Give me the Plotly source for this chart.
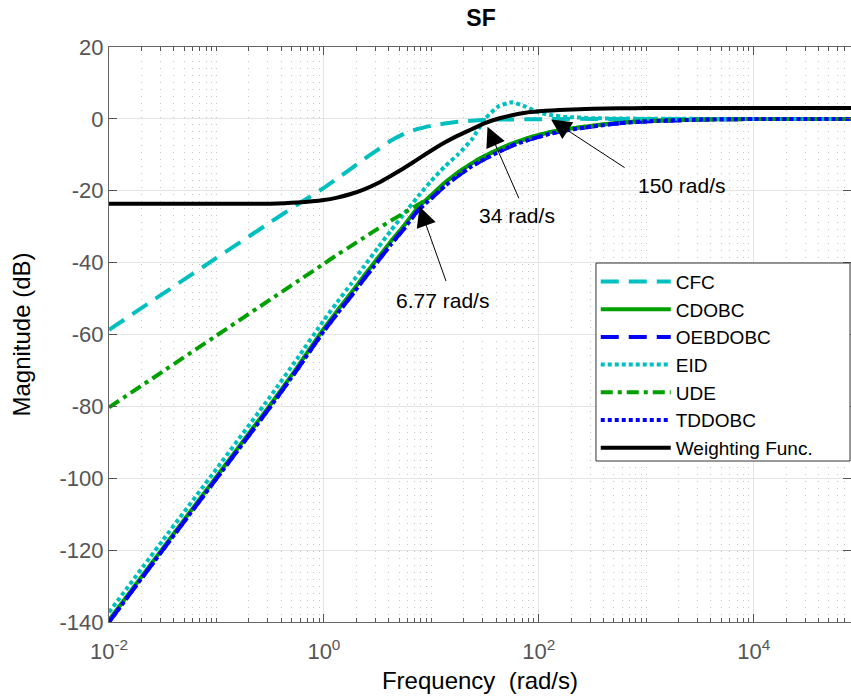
import math
import plotly.graph_objects as go

# ---------------- data ----------------
freq = [0.01, 0.0316, 0.1, 0.316, 0.562, 1, 1.33, 1.78, 2.37, 3.16, 4.22, 5.62, 7.5,
        10, 13.3, 17.8, 23.7, 31.6, 42.2, 56.2, 75, 100, 133, 178, 316, 562, 1000,
        3162, 10000, 80353]

cfc = [-58.7, -48.7, -38.7, -28.8, -23.9, -19.2, -16.6, -13.9, -11.2, -8.6, -6.0, -4.1, -2.8,
       -1.9, -1.3, -0.8, -0.5, -0.3, -0.2, -0.15, -0.1, -0.1, -0.05, 0, 0, 0, 0,
       0, 0, 0]
cdobc = [-139.5, -119.5, -99.6, -79.6, -69.2, -58.3, -53.4, -48.5, -43.6, -38.8, -34.0, -29.5, -24.6,
         -21.2, -17.8, -14.9, -12.4, -10.3, -8.5, -6.9, -5.6, -4.5, -3.6, -2.9, -1.9, -1.1, -0.6,
         -0.2, -0.05, 0]
oebdobc = [-140.0, -120.0, -100.1, -80.2, -69.8, -59.0, -54.2, -49.4, -44.5, -39.7, -34.9, -30.4, -25.5,
           -22.1, -18.7, -15.8, -13.2, -11.1, -9.2, -7.5, -6.1, -5.0, -4.0, -3.2, -2.1, -1.2, -0.7,
           -0.2, -0.05, 0]
eid = [-137.3, -117.3, -97.4, -77.3, -66.8, -56.0, -51.0, -46.0, -41.0, -36.0, -31.0, -26.3, -21.6,
       -17.2, -13.3, -9.8, -5.8, 0.0, 3.5, 4.6, 3.4, 1.8, 1.0, 0.55, 0.2, 0.1, 0.05,
       0, 0, 0]
ude = [-80.3, -70.3, -60.3, -50.3, -45.3, -40.3, -37.8, -35.4, -33.0, -30.6, -28.3, -26.1, -23.9,
       -21.4, -17.8, -14.9, -12.4, -10.3, -8.5, -6.9, -5.6, -4.5, -3.6, -2.9, -1.9, -1.1, -0.6,
       -0.2, -0.05, 0]
tddobc = [-140.0, -120.0, -100.1, -80.2, -69.8, -59.0, -54.2, -49.4, -44.5, -39.7, -34.9, -30.4, -25.5,
          -22.1, -18.7, -15.8, -13.2, -11.1, -9.2, -7.5, -6.1, -5.0, -4.0, -3.2, -2.1, -1.2, -0.7,
          -0.2, -0.05, 0]
weighting = [-23.6, -23.6, -23.6, -23.6, -23.3, -22.6, -21.9, -20.9, -19.6, -17.9, -15.8, -13.6, -11.2,
             -8.8, -6.6, -4.6, -2.9, -1.2, 0.1, 1.0, 1.7, 2.1, 2.35, 2.55, 2.8, 2.95, 3.0,
             3.0, 3.0, 3.0]

x_tickvals = [1e-2, 1e0, 1e2, 1e4]
x_ticktext = ["10<sup>-2</sup>", "10<sup>0</sup>", "10<sup>2</sup>", "10<sup>4</sup>"]
y_tickvals = [20, 0, -20, -40, -60, -80, -100, -120, -140]
y_ticktext = ["20", "0", "-20", "-40", "-60", "-80", "-100", "-120", "-140"]

annot_labels = ["6.77 rad/s", "34 rad/s", "150 rad/s"]
annot_tip_w = [7.76, 33.3, 130.0]
annot_tip_db = [-24.4, -2.2, -0.2]
annot_text_w = [12.7, 63.0, 2170.0]
annot_text_db = [-50.4, -27.0, -18.4]

# ---------------- styles ----------------
CYAN = "#00BFBF"
GREEN = "#00A000"
BLUE = "#0000FF"
FONT = "Liberation Sans, Arial, Helvetica, sans-serif"

series = [
    ("CFC", cfc, CYAN, "18px,10px"),
    ("CDOBC", cdobc, GREEN, "solid"),
    ("OEBDOBC", oebdobc, BLUE, "18px,10px"),
    ("EID", eid, CYAN, "4px,3px"),
    ("UDE", ude, GREEN, "12px,5px,4px,5px"),
    ("TDDOBC", tddobc, BLUE, "4px,3px"),
    ("Weighting Func.", weighting, "#000000", "solid"),
]

fig = go.Figure()
for name, vals, color, dash in series:
    fig.add_trace(go.Scatter(
        x=freq, y=vals, name=name, mode="lines",
        line=dict(color=color, width=4, dash=dash, shape="spline", smoothing=0.5),
    ))

minor_vals = []
for e in range(-2, 5):
    for m in range(1, 10):
        if m == 1 and e % 2 == 0:
            continue
        minor_vals.append(m * 10 ** e)

fig.update_xaxes(
    type="log", range=[-2, 4.905], automargin=False,
    tickvals=x_tickvals, ticktext=x_ticktext,
    ticks="inside", ticklen=8, tickcolor="#555555", ticklabelstandoff=10,
    showline=True, linecolor="#666666", linewidth=1, mirror="ticks",
    showgrid=True, gridcolor="#e4e4e4", gridwidth=1,
    tickfont=dict(family=FONT, size=22, color="#555555"),
    title=dict(text="Frequency  (rad/s)", font=dict(family=FONT, size=24, color="#000000"),
               standoff=8),
    minor=dict(tickvals=minor_vals, ticks="inside", ticklen=4, tickcolor="#555555",
               showgrid=True, gridcolor="#c4c4c4", griddash="1px,6px", gridwidth=1),
    zeroline=False,
)
fig.update_yaxes(
    range=[-140, 20], automargin=False,
    tickvals=y_tickvals, ticktext=y_ticktext,
    ticks="inside", ticklen=8, tickcolor="#555555",
    showline=True, linecolor="#666666", linewidth=1, mirror="ticks",
    showgrid=True, gridcolor="#e4e4e4", gridwidth=1,
    tickfont=dict(family=FONT, size=22, color="#555555"),
    title=dict(text="Magnitude (dB)", font=dict(family=FONT, size=24, color="#000000"),
               standoff=22),
    zeroline=False,
)

annotations = []
for lab, xw, xdb in zip(annot_labels, annot_text_w, annot_text_db):
    annotations.append(dict(
        x=math.log10(xw), y=xdb, xref="x", yref="y", text=lab, showarrow=False,
        font=dict(family=FONT, size=21, color="#000000"),
    ))
arrow_offsets = [(27, 76), (32, 73), (75, 49)]
for tw, tdb, (ax, ay) in zip(annot_tip_w, annot_tip_db, arrow_offsets):
    annotations.append(dict(
        x=math.log10(tw), y=tdb, xref="x", yref="y", text="", showarrow=True,
        ax=ax, ay=ay, arrowhead=2, arrowsize=4.0, arrowwidth=1, arrowcolor="#000000",
        standoff=0,
    ))

# legend frame (drawn as a box behind the legend entries)
legend_box = dict(type="rect", xref="paper", yref="paper",
                  x0=0.6563, x1=0.9987, y0=0.280, y1=0.6243,
                  line=dict(color="#333333", width=1), fillcolor="white", layer="above")

fig.update_layout(
    width=851, height=700,
    margin=dict(l=109, r=0, t=47, b=78),
    paper_bgcolor="white", plot_bgcolor="white",
    title=dict(text="<b>SF</b>", x=(481.0 / 851), xanchor="center",
               y=1 - 18.0 / 700, yanchor="middle",
               font=dict(family=FONT, size=23, color="#000000")),
    legend=dict(x=0.656, y=0.625, xanchor="left", yanchor="top",
                bgcolor="rgba(0,0,0,0)", borderwidth=0,
                font=dict(family=FONT, size=19, color="#000000"),
                itemwidth=70, tracegroupgap=0),
    shapes=[legend_box],
    annotations=annotations,
    showlegend=True,
)

fig.write_html(
    "out.html",
    config={"displayModeBar": False},
    post_script="document.body.style.margin='0';document.body.style.overflow='hidden';"
                "document.documentElement.style.overflow='hidden';",
)
